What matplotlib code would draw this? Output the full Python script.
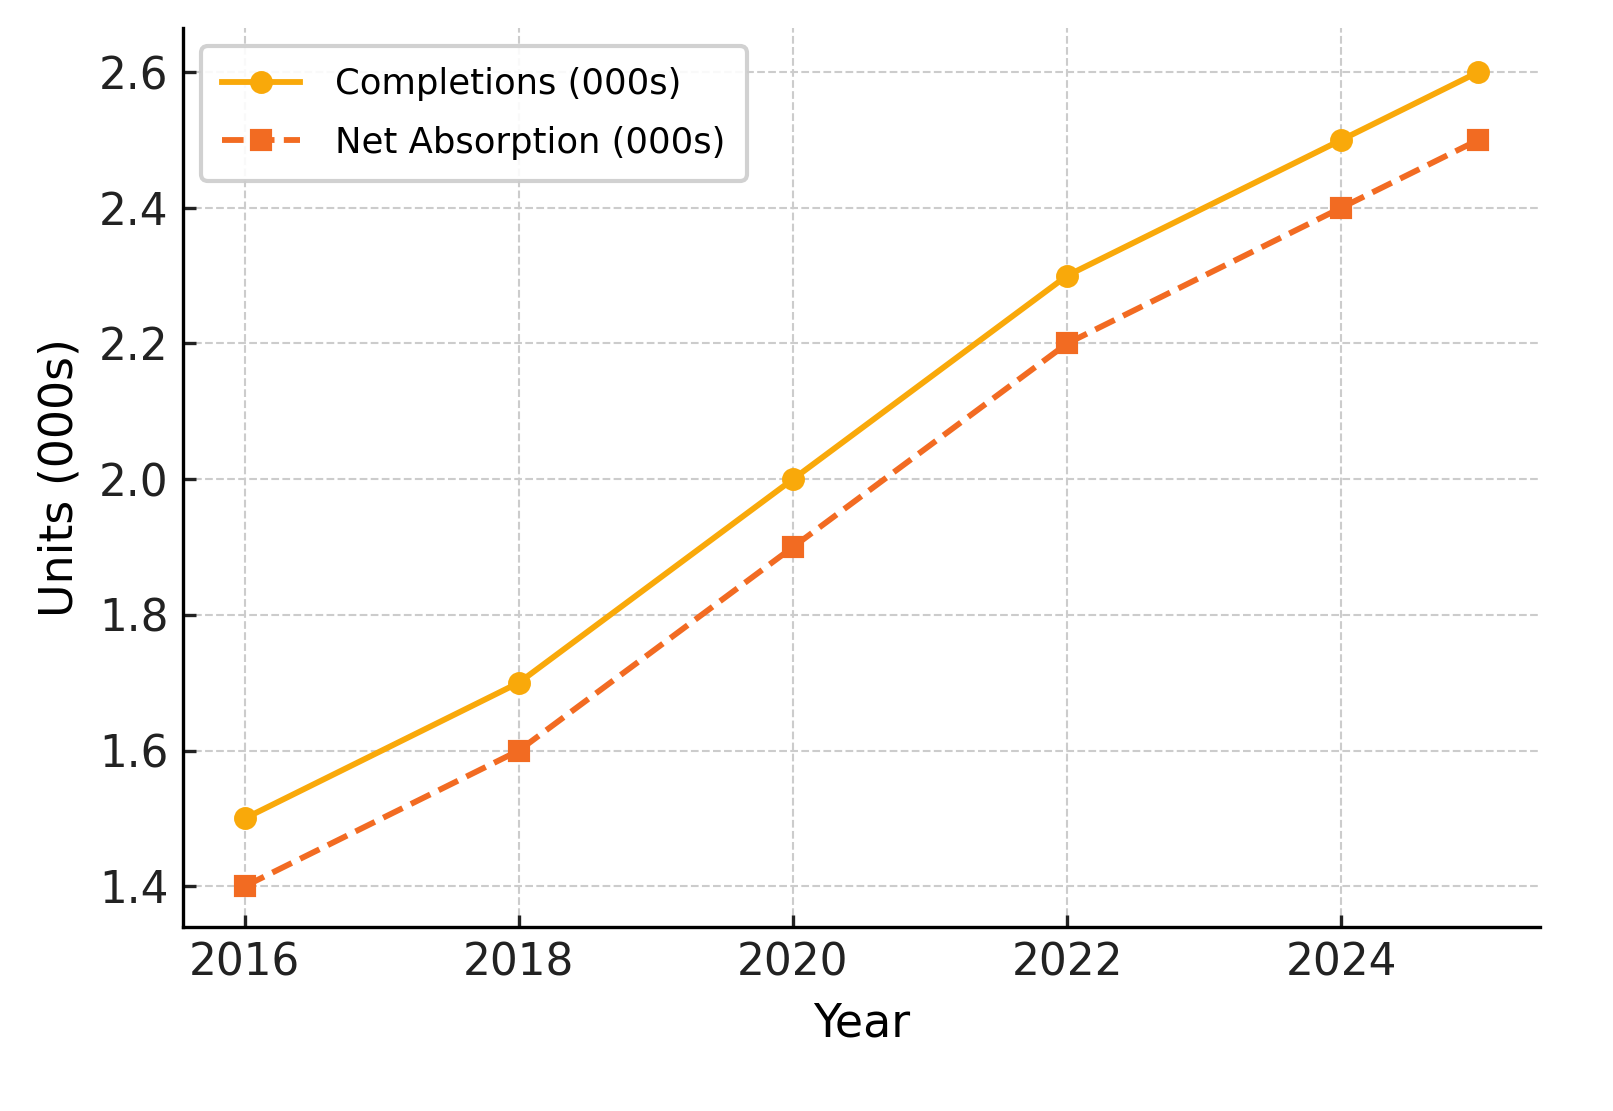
import matplotlib
matplotlib.use("Agg")
import matplotlib.pyplot as plt

years = [2016, 2018, 2020, 2022, 2024, 2025]
completions = [1.5, 1.7, 2.0, 2.3, 2.5, 2.6]
absorption = [1.4, 1.6, 1.9, 2.2, 2.4, 2.5]
xticks = [2016, 2018, 2020, 2022, 2024]
yticks = [1.4, 1.6, 1.8, 2.0, 2.2, 2.4, 2.6]

fig = plt.figure(figsize=(1613/300, 1111/300), dpi=300)
ax = fig.add_axes([183/1613, 1-927/1111, (1540-183)/1613, (927-28)/1111])
ax.plot(years, completions, color="#F9A90A", marker="o", lw=1.4, ms=4.5, label="Completions (000s)")
ax.plot(years, absorption, color="#F26B22", marker="s", lw=1.4, ms=4.5, ls="--", label="Net Absorption (000s)")
ax.set_xticks(xticks)
ax.set_yticks(yticks)
ax.set_xlim(2015.55, 2025.45)
ax.set_ylim(1.34, 2.665)
ax.tick_params(direction="in", labelsize=10.5, length=3, colors="#222222")
ax.grid(True, ls="--", lw=0.5, color="#cccccc")
for s in ["top", "right"]:
    ax.spines[s].set_visible(False)
ax.set_xlabel("Year", fontsize=11)
ax.set_ylabel("Units (000s)", fontsize=11)
ax.legend(loc="upper left", fontsize=8.5, framealpha=0.9, edgecolor="#cccccc", borderpad=0.6, labelspacing=0.7, handlelength=2.2, handletextpad=1.0)
fig.savefig("out.png", dpi=300)
